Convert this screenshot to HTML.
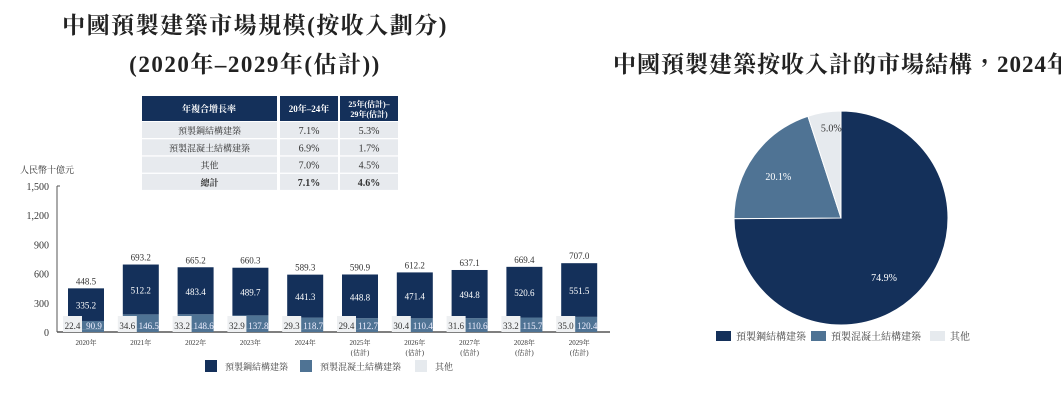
<!DOCTYPE html>
<html><head><meta charset="utf-8"><style>
body{margin:0;background:#fff;width:1061px;height:411px;overflow:hidden}
svg{font-family:"Liberation Serif","Noto Serif CJK TC","Noto Serif CJK SC",serif}
</style></head><body>
<svg id="c" width="1061" height="411" xmlns="http://www.w3.org/2000/svg">
<text x="255" y="33" text-anchor="middle" font-size="23" font-weight="bold" letter-spacing="1.5" fill="#222">中國預製建築市場規模(按收入劃分)</text>
<text x="255" y="72" text-anchor="middle" font-size="23" font-weight="bold" letter-spacing="1.5" fill="#222">(2020年–2029年(估計))</text>
<text x="613" y="72" font-size="23" font-weight="bold" letter-spacing="1" fill="#222">中國預製建築按收入計的市場結構，2024年</text>
<g id="table"></g>
<g id="bars"></g>
<g id="pie"></g>
</svg>
<script>
const years=["2020年","2021年","2022年","2023年","2024年","2025年|(估計)","2026年|(估計)","2027年|(估計)","2028年|(估計)","2029年|(估計)"];
const steel=[335.2,512.2,483.4,489.7,441.3,448.8,471.4,494.8,520.6,551.5];
const concrete=[90.9,146.5,148.6,137.8,118.7,112.7,110.4,110.6,115.7,120.4];
const other=[22.4,34.6,33.2,32.9,29.3,29.4,30.4,31.6,33.2,35.0];
const totals=[448.5,693.2,665.2,660.3,589.3,590.9,612.2,637.1,669.4,707.0];
const yTicks=[0,300,600,900,1200,1500];
const pieLabels=["預製鋼結構建築","預製混凝土結構建築","其他"];
const pieValues=[74.9,20.1,5.0];
const tableRows=[["預製鋼結構建築","7.1%","5.3%"],["預製混凝土結構建築","6.9%","1.7%"],["其他","7.0%","4.5%"],["總計","7.1%","4.6%"]];
const C=["#14305a","#4f7394","#e6eaee"];
const NS="http://www.w3.org/2000/svg";
function el(t,a,p,txt){const e=document.createElementNS(NS,t);for(const k in a)e.setAttribute(k,a[k]);if(txt!=null)e.textContent=txt;p.appendChild(e);return e;}
// table
const tb=document.getElementById('table');
const cx=[142,280,340],cw=[135,58,58];
let r=el('rect',{x:142,y:96,width:135,height:25,fill:C[0]},tb);
el('rect',{x:280,y:96,width:58,height:25,fill:C[0]},tb);el('rect',{x:340,y:96,width:58,height:25,fill:C[0]},tb);
el('text',{x:209,y:112,'text-anchor':'middle','font-size':9,'font-weight':'bold',fill:'#fff'},tb,"年複合增長率");
el('text',{x:309,y:112,'text-anchor':'middle','font-size':9,'font-weight':'bold',fill:'#fff'},tb,"20年–24年");
el('text',{x:369,y:107,'text-anchor':'middle','font-size':8,'font-weight':'bold',fill:'#fff'},tb,"25年(估計)–");
el('text',{x:369,y:117,'text-anchor':'middle','font-size':8,'font-weight':'bold',fill:'#fff'},tb,"29年(估計)");
tableRows.forEach((row,i)=>{const y=122+i*17.3;
 row.forEach((v,j)=>{const rc=el('rect',{x:cx[j],y:y,width:cw[j],height:16,fill:'#e7eaee'},tb);
  
  el('text',{x:cx[j]+cw[j]/2,y:y+12,'text-anchor':'middle','font-size':j?10:9,'font-weight':i==3?'bold':'normal',fill:'#333'},tb,v);});});
// bars
const g=document.getElementById('bars');
const y0=332,y1=186,x0=57;
const ys=v=>y0-(v/1500)*(y0-y1);
const xc=i=>86+i*54.8;
el('text',{x:20,y:173,'font-size':9,fill:'#333'},g,"人民幣十億元");
yTicks.forEach(t=>{const tx=el('text',{x:49,y:ys(t)+4,'text-anchor':'end','font-size':10,fill:'#333'},g,t.toLocaleString('en-US'));
 });
el('line',{x1:x0,y1:y1,x2:x0,y2:y0,stroke:'#555','stroke-width':1},g);
el('line',{x1:x0,y1:y1,x2:x0+3,y2:y1,stroke:'#555'},g);
el('line',{x1:x0,y1:y0,x2:610,y2:y0,stroke:'#555','stroke-width':1.5},g);
const bw=36;
years.forEach((yr,i)=>{const x=xc(i)-bw/2;
 const o=el('rect',{x:x,y:ys(other[i]),width:bw,height:y0-ys(other[i]),fill:C[1]},g);
 
 const c=el('rect',{x:x,y:ys(other[i]+concrete[i]),width:bw,height:ys(other[i])-ys(other[i]+concrete[i]),fill:C[1]},g);
 
 const s=el('rect',{x:x,y:ys(totals[i]),width:bw,height:ys(other[i]+concrete[i])-ys(totals[i]),fill:C[0]},g);
 
 el('text',{x:xc(i),y:ys(totals[i])-4,'text-anchor':'middle','font-size':9,fill:'#333'},g,totals[i].toFixed(1));
 el('text',{x:xc(i),y:(ys(totals[i])+ys(other[i]+concrete[i]))/2+4,'text-anchor':'middle','font-size':9,fill:'#fff'},g,steel[i].toFixed(1));
 el('rect',{x:x-5,y:y0-16,width:19,height:16,fill:'#eef0f2'},g);
 el('text',{x:x+4.5,y:y0-3,'text-anchor':'middle','font-size':9,fill:'#333'},g,other[i].toFixed(1));
 el('text',{x:x+26,y:y0-3,'text-anchor':'middle','font-size':9,fill:'#eef'},g,concrete[i].toFixed(1));
 yr.split('|').forEach((p,k)=>el('text',{x:xc(i),y:345+k*10,'text-anchor':'middle','font-size':7,fill:'#333'},g,p));
});
const lx=[205,300,415];
pieLabels.forEach((l,i)=>{const lr=el('rect',{x:lx[i],y:360,width:12,height:12,fill:C[i]},g);
 
 el('text',{x:lx[i]+20,y:370,'font-size':9,fill:'#444'},g,l);});
// pie
const pg=document.getElementById('pie');
const pcx=841,pcy=218,R=107;const tot=pieValues.reduce((a,b)=>a+b,0);
const lblOff=[[-4,12],[-2,2],[4,-4]];
let a=-Math.PI/2;
pieValues.forEach((v,i)=>{const b=a+v/tot*2*Math.PI;
 const p=el('path',{d:`M${pcx},${pcy}L${pcx+R*Math.cos(a)},${pcy+R*Math.sin(a)}A${R},${R} 0 ${b-a>Math.PI?1:0} 1 ${pcx+R*Math.cos(b)},${pcy+R*Math.sin(b)}Z`,fill:C[i],stroke:'#fff','stroke-width':1},pg);
 
 const m=(a+b)/2,rr=i==0?0.62:(i==1?0.7:0.82);
 el('text',{x:pcx+R*rr*Math.cos(m)+lblOff[i][0],y:pcy+R*rr*Math.sin(m)+4+lblOff[i][1],'text-anchor':'middle','font-size':10,fill:i==2?'#333':'#fff'},pg,v.toFixed(1)+'%');
 a=b;});
const px=[716,811,930];
pieLabels.forEach((l,i)=>{const lr=el('rect',{x:px[i],y:331,width:15,height:10,fill:C[i]},pg);
 
 el('text',{x:px[i]+20,y:340,'font-size':10,fill:'#444'},pg,l);});
</script>
</body></html>
